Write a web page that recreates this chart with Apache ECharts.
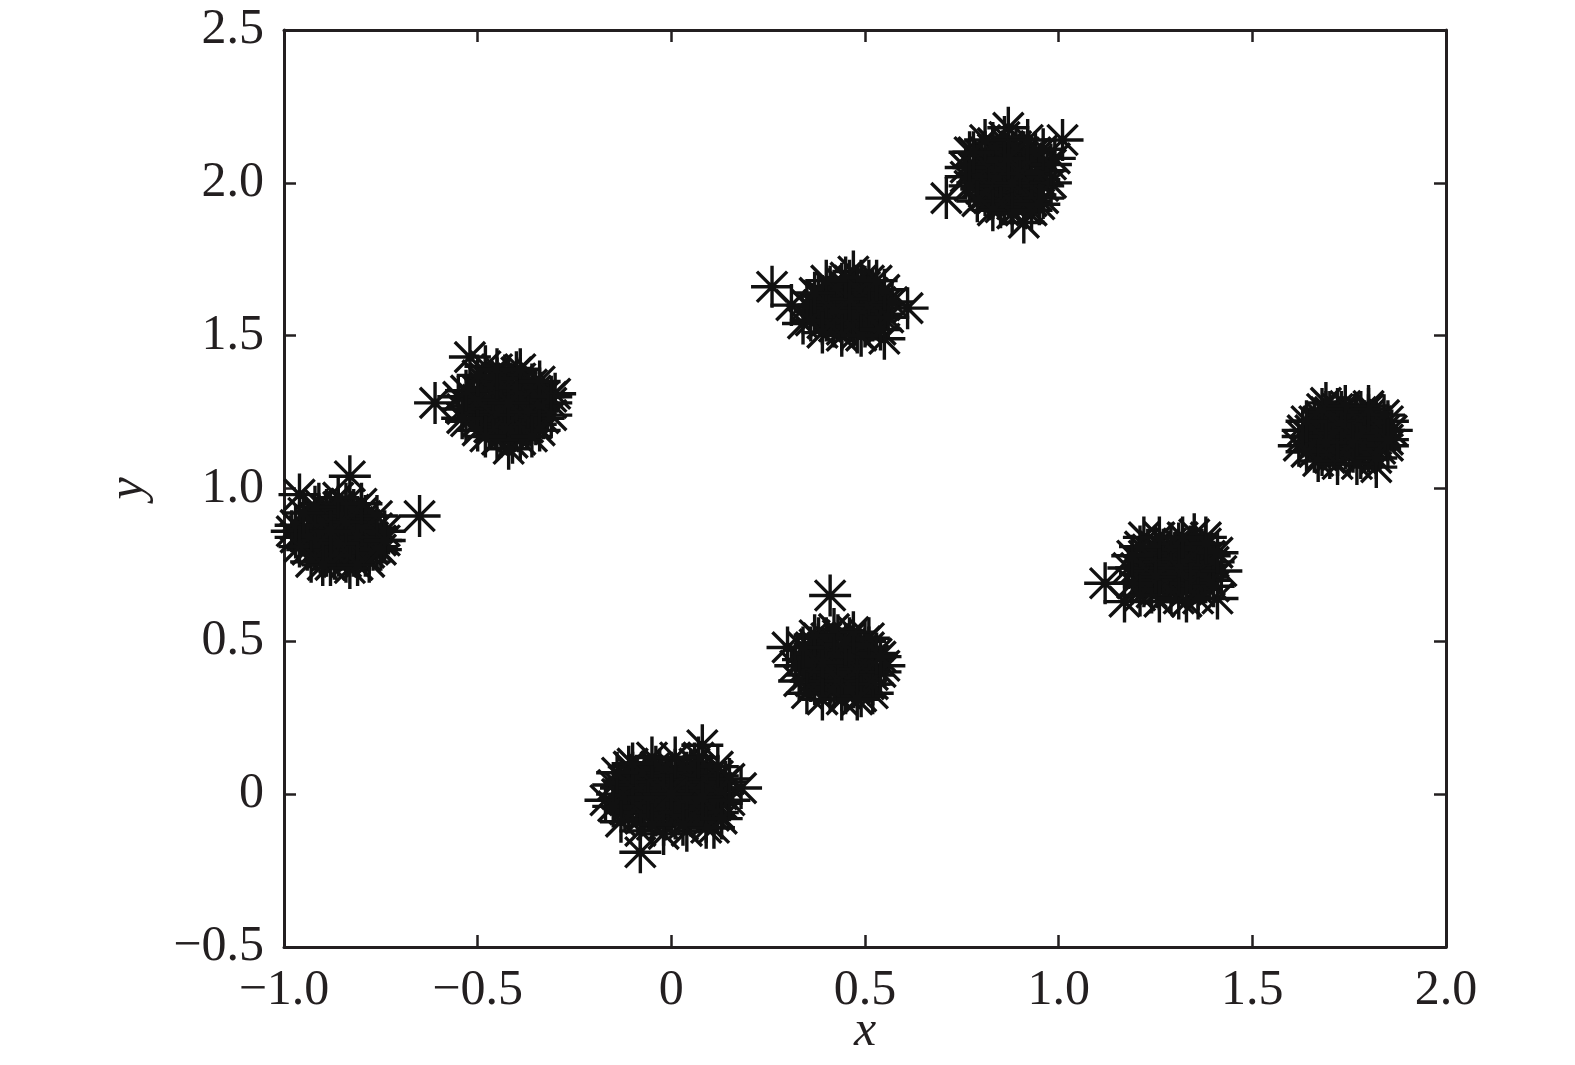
<!DOCTYPE html>
<html>
<head>
<meta charset="utf-8">
<script src="https://cdn.jsdelivr.net/npm/echarts@6/dist/echarts.min.js"></script>
<style>
html,body{margin:0;padding:0;background:#fff;}
#chart{width:1575px;height:1065px;}
</style>
</head>
<body>
<div id="chart"></div>
<script>
// Tick values and labels
const xTicks = [-1, -0.5, 0, 0.5, 1, 1.5, 2];
const xTickLabels = ['\u22121.0', '\u22120.5', '0', '0.5', '1.0', '1.5', '2.0'];
const yTicks = [-0.5, 0, 0.5, 1, 1.5, 2, 2.5];
const yTickLabels = ['\u22120.5', '0', '0.5', '1.0', '1.5', '2.0', '2.5'];

// Cluster points
const clusterA = [[-0.95,0.86],[-0.93,0.82],[-0.92,0.90],[-0.90,0.85],[-0.90,0.79],[-0.89,0.93],[-0.88,0.88],[-0.87,0.83],[-0.87,0.77],[-0.86,0.91],[-0.85,0.86],[-0.85,0.80],[-0.84,0.95],[-0.83,0.84],[-0.83,0.89],[-0.82,0.78],[-0.81,0.86],[-0.80,0.92],[-0.80,0.82],[-0.79,0.88],[-0.78,0.84],[-0.77,0.80],[-0.76,0.87],[-0.94,0.80],[-0.97,0.84],[-0.91,0.95],[-0.88,0.80],[-0.84,0.76],[-0.79,0.78],[-0.75,0.83],[-0.86,0.88],[-0.89,0.84],[-0.82,0.90],[-0.96,0.98],[-0.83,1.04],[-0.65,0.91],[-0.98,0.86],
[-0.94,0.84],[-0.93,0.88],[-0.92,0.80],[-0.91,0.86],[-0.91,0.91],[-0.90,0.82],[-0.89,0.87],[-0.89,0.78],[-0.88,0.92],[-0.88,0.84],[-0.87,0.89],[-0.87,0.80],[-0.86,0.85],[-0.86,0.78],[-0.86,0.94],[-0.85,0.83],[-0.85,0.89],[-0.84,0.80],[-0.84,0.86],[-0.84,0.92],[-0.83,0.78],[-0.83,0.87],[-0.82,0.83],[-0.82,0.93],[-0.81,0.80],[-0.81,0.89],[-0.80,0.85],[-0.79,0.82],[-0.79,0.91],[-0.78,0.87],[-0.78,0.79],[-0.77,0.84],[-0.76,0.81],[-0.93,0.85],[-0.90,0.88],[-0.87,0.86],[-0.85,0.91],[-0.83,0.81],[-0.80,0.88],[-0.89,0.81],[-0.92,0.83],[-0.81,0.84],[-0.86,0.82],[-0.84,0.89],[-0.88,0.86],
[-0.97,0.88],[-0.96,0.81],[-0.93,0.76],[-0.88,0.75],[-0.83,0.74],[-0.78,0.76],[-0.75,0.80],[-0.74,0.86],[-0.76,0.91],[-0.80,0.95],[-0.86,0.97],[-0.92,0.94],[-0.95,0.92],[-0.90,0.75],[-0.81,0.75],[-0.74,0.83]];
const clusterB = [[-0.52,1.27],[-0.50,1.32],[-0.49,1.23],[-0.48,1.36],[-0.47,1.28],[-0.46,1.21],[-0.45,1.33],[-0.44,1.25],[-0.43,1.30],[-0.42,1.19],[-0.42,1.36],[-0.41,1.27],[-0.40,1.23],[-0.39,1.32],[-0.38,1.28],[-0.37,1.20],[-0.36,1.34],[-0.35,1.26],[-0.34,1.30],[-0.33,1.23],[-0.46,1.30],[-0.44,1.17],[-0.40,1.38],[-0.38,1.24],[-0.50,1.25],[-0.55,1.30],[-0.53,1.22],[-0.48,1.40],[-0.43,1.23],[-0.41,1.15],[-0.31,1.28],[-0.52,1.43],[-0.61,1.28],[-0.30,1.31],[-0.42,1.13],
[-0.51,1.29],[-0.50,1.22],[-0.49,1.30],[-0.48,1.25],[-0.48,1.33],[-0.47,1.20],[-0.47,1.35],[-0.46,1.27],[-0.45,1.23],[-0.45,1.30],[-0.44,1.34],[-0.44,1.21],[-0.43,1.27],[-0.43,1.37],[-0.42,1.24],[-0.42,1.31],[-0.41,1.21],[-0.41,1.34],[-0.40,1.28],[-0.40,1.19],[-0.39,1.25],[-0.39,1.36],[-0.38,1.31],[-0.38,1.21],[-0.37,1.27],[-0.37,1.33],[-0.36,1.23],[-0.36,1.29],[-0.35,1.32],[-0.35,1.21],[-0.34,1.27],[-0.33,1.30],[-0.49,1.27],[-0.46,1.32],[-0.44,1.28],[-0.41,1.25],[-0.39,1.29],[-0.43,1.20],[-0.40,1.33],[-0.46,1.24],[-0.37,1.25],[-0.50,1.29],[-0.42,1.28],[-0.45,1.36],
[-0.54,1.26],[-0.53,1.32],[-0.50,1.37],[-0.45,1.39],[-0.39,1.39],[-0.34,1.35],[-0.31,1.30],[-0.31,1.24],[-0.34,1.19],[-0.39,1.16],[-0.45,1.16],[-0.50,1.19],[-0.54,1.23],[-0.36,1.17],[-0.48,1.17]];
const clusterC = [[-0.14,0.00],[-0.12,0.04],[-0.12,-0.05],[-0.10,0.07],[-0.10,-0.02],[-0.08,0.02],[-0.08,-0.08],[-0.06,0.06],[-0.06,-0.04],[-0.05,0.01],[-0.04,0.09],[-0.03,-0.06],[-0.02,0.03],[-0.01,-0.02],[0.00,0.07],[0.01,-0.08],[0.02,0.01],[0.03,0.05],[0.04,-0.04],[0.05,0.08],[0.06,0.00],[0.07,-0.06],[0.08,0.04],[0.09,-0.02],[0.10,0.06],[0.11,-0.07],[0.12,0.02],[0.13,-0.03],[0.06,0.10],[-0.02,-0.10],[0.04,0.03],[-0.07,0.00],[0.14,0.04],[-0.11,0.09],[0.09,-0.09],[0.08,0.16],[-0.08,-0.19],[-0.17,-0.02],[0.18,0.02],[0.11,-0.11],
[-0.13,0.02],[-0.12,-0.02],[-0.11,0.05],[-0.11,-0.06],[-0.10,0.01],[-0.09,0.06],[-0.09,-0.04],[-0.08,0.04],[-0.08,-0.01],[-0.07,0.08],[-0.07,-0.06],[-0.06,0.02],[-0.05,-0.03],[-0.05,0.06],[-0.04,0.00],[-0.04,-0.07],[-0.03,0.04],[-0.03,0.08],[-0.02,-0.04],[-0.01,0.01],[-0.01,0.06],[0.00,-0.05],[0.00,0.03],[0.01,0.08],[0.01,-0.01],[0.02,-0.06],[0.02,0.05],[0.03,0.00],[0.03,-0.03],[0.04,0.07],[0.05,-0.07],[0.05,0.02],[0.06,0.05],[0.06,-0.03],[0.07,0.01],[0.07,0.08],[0.08,-0.05],[0.08,0.02],[0.09,0.05],[0.10,-0.04],[0.10,0.01],[0.11,0.04],[0.11,-0.02],[0.12,-0.06],[0.12,0.06],[0.13,0.00],[-0.10,0.04],[-0.06,-0.01],[0.04,-0.01],[0.08,-0.01],[-0.02,0.00],[0.00,0.00],
[-0.15,0.03],[-0.15,-0.04],[-0.13,-0.09],[-0.08,-0.12],[-0.02,-0.13],[0.04,-0.12],[0.09,-0.11],[0.13,-0.08],[0.15,-0.02],[0.15,0.05],[0.12,0.09],[0.07,0.12],[0.01,0.12],[-0.05,0.12],[-0.10,0.10],[-0.14,0.07],[0.03,-0.10],[-0.05,-0.10]];
const clusterD = [[0.34,0.44],[0.35,0.39],[0.36,0.48],[0.37,0.42],[0.37,0.36],[0.38,0.51],[0.39,0.45],[0.40,0.39],[0.41,0.34],[0.41,0.48],[0.42,0.43],[0.43,0.52],[0.44,0.37],[0.44,0.46],[0.45,0.41],[0.46,0.49],[0.47,0.35],[0.47,0.44],[0.48,0.39],[0.49,0.47],[0.50,0.42],[0.51,0.36],[0.50,0.50],[0.52,0.44],[0.39,0.40],[0.43,0.45],[0.45,0.33],[0.36,0.45],[0.41,0.65],[0.55,0.42],[0.52,0.33],[0.30,0.48],
[0.35,0.42],[0.36,0.37],[0.36,0.46],[0.37,0.49],[0.38,0.40],[0.38,0.44],[0.39,0.36],[0.39,0.48],[0.40,0.43],[0.40,0.51],[0.41,0.38],[0.41,0.45],[0.42,0.35],[0.42,0.49],[0.43,0.40],[0.43,0.47],[0.44,0.43],[0.44,0.34],[0.45,0.38],[0.45,0.46],[0.46,0.42],[0.46,0.51],[0.47,0.37],[0.47,0.48],[0.48,0.43],[0.48,0.35],[0.49,0.40],[0.49,0.45],[0.50,0.37],[0.50,0.46],[0.51,0.41],[0.51,0.48],[0.52,0.39],[0.37,0.44],[0.40,0.40],[0.42,0.42],[0.44,0.40],[0.46,0.45],[0.48,0.41],[0.43,0.37],[0.39,0.43],[0.45,0.49],
[0.32,0.42],[0.33,0.37],[0.35,0.33],[0.39,0.31],[0.44,0.31],[0.49,0.32],[0.52,0.36],[0.54,0.40],[0.53,0.46],[0.51,0.51],[0.47,0.53],[0.42,0.54],[0.37,0.52],[0.34,0.48],[0.48,0.31],[0.54,0.45]];
const clusterE = [[0.37,1.58],[0.38,1.63],[0.39,1.54],[0.40,1.60],[0.41,1.66],[0.42,1.56],[0.43,1.62],[0.44,1.52],[0.45,1.59],[0.46,1.65],[0.46,1.55],[0.47,1.61],[0.48,1.57],[0.49,1.68],[0.50,1.53],[0.50,1.63],[0.51,1.59],[0.52,1.55],[0.53,1.62],[0.54,1.57],[0.44,1.64],[0.42,1.60],[0.48,1.51],[0.55,1.60],[0.26,1.66],[0.31,1.60],[0.61,1.59],[0.55,1.49],[0.47,1.71],[0.34,1.54],
[0.38,1.60],[0.39,1.57],[0.39,1.63],[0.40,1.55],[0.41,1.61],[0.41,1.58],[0.42,1.64],[0.42,1.53],[0.43,1.59],[0.43,1.56],[0.44,1.61],[0.44,1.67],[0.45,1.55],[0.45,1.63],[0.46,1.58],[0.46,1.68],[0.47,1.53],[0.47,1.64],[0.48,1.60],[0.48,1.66],[0.49,1.56],[0.49,1.62],[0.50,1.59],[0.50,1.66],[0.51,1.54],[0.51,1.62],[0.52,1.58],[0.52,1.64],[0.53,1.56],[0.54,1.61],[0.44,1.58],[0.47,1.57],[0.45,1.60],[0.49,1.59],[0.42,1.58],[0.51,1.60],[0.46,1.62],[0.40,1.62],
[0.35,1.60],[0.36,1.55],[0.39,1.51],[0.44,1.50],[0.49,1.50],[0.54,1.52],[0.56,1.56],[0.57,1.61],[0.55,1.65],[0.51,1.68],[0.45,1.69],[0.40,1.68],[0.37,1.64],[0.53,1.68]];
const clusterF = [[0.78,2.05],[0.79,2.00],[0.80,2.09],[0.81,1.96],[0.82,2.03],[0.83,2.11],[0.84,1.99],[0.85,2.06],[0.86,1.93],[0.86,2.02],[0.87,2.12],[0.88,1.97],[0.89,2.07],[0.90,2.01],[0.91,1.92],[0.91,2.10],[0.92,2.04],[0.93,1.98],[0.94,2.07],[0.95,2.01],[0.85,2.08],[0.83,1.95],[0.88,2.04],[0.97,2.04],[0.76,2.02],[1.01,2.14],[0.71,1.95],[0.87,2.18],[0.91,1.87],[0.99,2.08],[0.77,2.10],
[0.79,2.03],[0.80,1.98],[0.80,2.06],[0.81,2.10],[0.81,2.01],[0.82,1.95],[0.82,2.07],[0.83,2.02],[0.83,2.13],[0.84,1.97],[0.84,2.05],[0.85,2.10],[0.85,2.00],[0.86,1.95],[0.86,2.07],[0.87,2.03],[0.87,1.98],[0.88,2.10],[0.88,1.93],[0.89,2.02],[0.89,2.12],[0.90,1.97],[0.90,2.06],[0.91,2.00],[0.91,1.95],[0.92,2.08],[0.92,1.99],[0.93,2.03],[0.94,1.96],[0.94,2.10],[0.95,2.04],[0.96,1.99],[0.84,2.02],[0.86,2.04],[0.88,2.00],[0.90,2.03],[0.87,2.08],[0.82,1.99],[0.93,1.94],[0.85,1.92],
[0.76,2.05],[0.77,1.99],[0.79,1.94],[0.83,1.91],[0.88,1.90],[0.93,1.91],[0.96,1.95],[0.98,2.00],[0.98,2.06],[0.96,2.11],[0.92,2.14],[0.86,2.15],[0.81,2.14],[0.78,2.10],[0.95,1.93]];
const clusterG = [[1.20,0.74],[1.21,0.69],[1.22,0.78],[1.23,0.72],[1.24,0.66],[1.25,0.81],[1.26,0.75],[1.27,0.70],[1.28,0.78],[1.29,0.66],[1.30,0.73],[1.31,0.82],[1.32,0.69],[1.33,0.77],[1.34,0.72],[1.35,0.80],[1.36,0.67],[1.37,0.75],[1.38,0.71],[1.39,0.78],[1.27,0.74],[1.33,0.74],[1.30,0.79],[1.24,0.76],[1.17,0.63],[1.41,0.64],[1.35,0.85],[1.12,0.69],[1.38,0.84],[1.22,0.84],
[1.21,0.72],[1.22,0.76],[1.22,0.68],[1.23,0.80],[1.24,0.74],[1.24,0.70],[1.25,0.77],[1.26,0.67],[1.26,0.72],[1.27,0.80],[1.27,0.76],[1.28,0.70],[1.28,0.74],[1.29,0.82],[1.29,0.77],[1.30,0.69],[1.30,0.75],[1.31,0.71],[1.31,0.78],[1.32,0.74],[1.32,0.80],[1.33,0.67],[1.33,0.71],[1.34,0.76],[1.34,0.81],[1.35,0.73],[1.35,0.69],[1.36,0.78],[1.37,0.72],[1.37,0.80],[1.38,0.75],[1.39,0.70],[1.40,0.76],[1.26,0.74],[1.29,0.72],[1.32,0.76],[1.36,0.74],[1.31,0.74],[1.25,0.71],[1.34,0.69],
[1.18,0.74],[1.19,0.69],[1.21,0.65],[1.26,0.63],[1.31,0.64],[1.36,0.64],[1.40,0.68],[1.42,0.73],[1.41,0.79],[1.38,0.82],[1.32,0.84],[1.26,0.84],[1.21,0.81],[1.19,0.78],[1.33,0.63]];
const clusterH = [[1.65,1.17],[1.66,1.12],[1.67,1.22],[1.68,1.15],[1.69,1.25],[1.70,1.10],[1.71,1.19],[1.72,1.14],[1.73,1.23],[1.74,1.17],[1.75,1.11],[1.76,1.21],[1.77,1.15],[1.78,1.25],[1.79,1.12],[1.80,1.19],[1.81,1.14],[1.82,1.22],[1.83,1.17],[1.70,1.21],[1.75,1.18],[1.72,1.26],[1.78,1.10],[1.85,1.22],[1.82,1.07],[1.62,1.14],[1.69,1.28],[1.80,1.27],[1.63,1.19],
[1.65,1.19],[1.66,1.15],[1.66,1.22],[1.67,1.13],[1.67,1.18],[1.68,1.23],[1.68,1.11],[1.69,1.17],[1.69,1.20],[1.70,1.14],[1.70,1.25],[1.71,1.16],[1.71,1.22],[1.72,1.11],[1.72,1.19],[1.73,1.15],[1.73,1.25],[1.74,1.20],[1.74,1.13],[1.75,1.23],[1.75,1.16],[1.76,1.12],[1.76,1.18],[1.77,1.24],[1.77,1.20],[1.78,1.14],[1.78,1.18],[1.79,1.22],[1.79,1.16],[1.80,1.12],[1.80,1.24],[1.81,1.18],[1.82,1.15],[1.82,1.20],[1.83,1.13],[1.84,1.19],[1.71,1.18],[1.74,1.17],[1.77,1.17],[1.73,1.21],[1.76,1.15],[1.69,1.15],
[1.63,1.17],[1.64,1.12],[1.67,1.09],[1.72,1.08],[1.77,1.08],[1.82,1.10],[1.85,1.14],[1.86,1.19],[1.84,1.24],[1.80,1.26],[1.74,1.27],[1.68,1.26],[1.64,1.22],[1.85,1.16]];

const allPoints = [].concat(clusterA, clusterB, clusterC, clusterD, clusterE, clusterF, clusterG, clusterH);

const FONT = "'Liberation Serif', 'Times New Roman', serif";
const INK = '#231f20';
const ASTERISK = 'path://M0,-1 L0,1 M-1,0 L1,0 M-0.72,-0.72 L0.72,0.72 M-0.72,0.72 L0.72,-0.72';

function fmt(ticks, labels) {
  return function (v) {
    for (let i = 0; i < ticks.length; i++) {
      if (Math.abs(ticks[i] - v) < 1e-9) return labels[i];
    }
    return '';
  };
}

const chart = echarts.init(document.getElementById('chart'), null, {renderer: 'canvas'});

const axisLine = {show: true, onZero: false, lineStyle: {color: INK, width: 3}};
const axisTick = {show: true, inside: true, length: 12, lineStyle: {color: INK, width: 2.5}};

chart.setOption({
  animation: false,
  backgroundColor: '#ffffff',
  grid: {left: 284, right: 129, top: 30, bottom: 118, containLabel: false, outerBoundsMode: 'none'},
  xAxis: [{
    type: 'value', min: -1, max: 2, interval: 0.5, position: 'bottom',
    axisLine: axisLine, axisTick: axisTick, splitLine: {show: false},
    axisLabel: {color: INK, fontFamily: FONT, fontSize: 50, margin: 19, formatter: fmt(xTicks, xTickLabels)},
    name: 'x', nameLocation: 'middle', nameGap: 60, nameMoveOverlap: false,
    nameTextStyle: {color: INK, fontFamily: FONT, fontSize: 50, fontStyle: 'italic'}
  }, {
    type: 'value', min: -1, max: 2, interval: 0.5, position: 'top',
    axisLine: axisLine, axisTick: axisTick, splitLine: {show: false}, axisLabel: {show: false}
  }],
  yAxis: [{
    type: 'value', min: -0.5, max: 2.5, interval: 0.5, position: 'left',
    axisLine: axisLine, axisTick: axisTick, splitLine: {show: false},
    axisLabel: {color: INK, fontFamily: FONT, fontSize: 50, margin: 20, formatter: fmt(yTicks, yTickLabels)},
    name: 'y', nameLocation: 'middle', nameGap: 130, nameRotate: 90, nameMoveOverlap: false,
    nameTextStyle: {color: INK, fontFamily: FONT, fontSize: 50, fontStyle: 'italic'}
  }, {
    type: 'value', min: -0.5, max: 2.5, interval: 0.5, position: 'right',
    axisLine: axisLine, axisTick: axisTick, splitLine: {show: false}, axisLabel: {show: false}
  }],
  series: [{
    type: 'scatter',
    xAxisIndex: 0, yAxisIndex: 0,
    data: allPoints,
    symbol: ASTERISK,
    symbolSize: 42,
    clip: false,
    itemStyle: {color: 'none', borderColor: '#111111', borderWidth: 3.4, opacity: 1},
    emphasis: {disabled: true}
  }]
});
</script>
</body>
</html>
